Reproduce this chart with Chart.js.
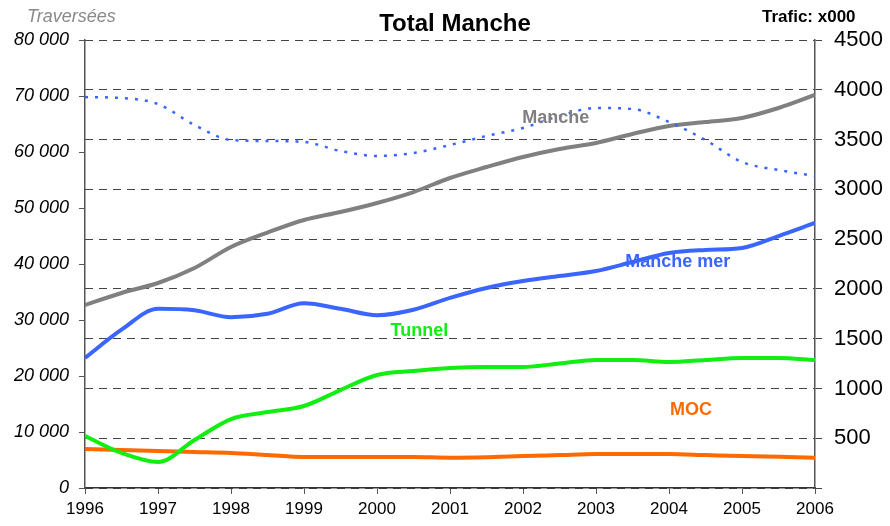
<!DOCTYPE html>
<html>
<head>
<meta charset="utf-8">
<script src="https://cdn.jsdelivr.net/npm/chart.js@4"></script>
<style>
  body { margin: 0; background: #fff; }
</style>
</head>
<body>
<canvas id="myChart" width="890" height="526"></canvas>
<script>
// donnees (semestres)
const annees = [1996, 1996.5, 1997, 1997.5, 1998, 1998.5, 1999, 1999.5, 2000, 2000.5, 2001,
                2001.5, 2002, 2002.5, 2003, 2003.5, 2004, 2004.5, 2005, 2005.5, 2006];

// trafic en milliers (axe de droite)
const manche    = [1838, 1959, 2059, 2210, 2421, 2566, 2692, 2772, 2863, 2973, 3114,
                   3224, 3325, 3405, 3466, 3556, 3636, 3676, 3717, 3817, 3948];
const mancheMer = [1306, 1590, 1800, 1785, 1715, 1750, 1855, 1800, 1735, 1790, 1909,
                   2009, 2079, 2130, 2180, 2270, 2361, 2391, 2411, 2531, 2662];
const tunnel    = [522, 352, 261, 482, 693, 763, 824, 984, 1135, 1175, 1205,
                   1215, 1216, 1250, 1286, 1286, 1266, 1286, 1306, 1306, 1286];
const moc       = [392, 382, 372, 362, 352, 331, 311, 311, 311, 311, 305,
                   310, 321, 331, 341, 341, 341, 331, 321, 313, 305];

// traversees (axe de gauche)
const traversees = [69800, 69640, 68570, 64820, 62140, 61960, 61790, 60180, 59290, 59820, 61250,
                    62860, 64290, 66430, 67860, 67680, 65360, 62140, 58210, 56790, 55710];

// etiquettes des courbes : [texte, annee, valeur axe droite, couleur]
const etiquettes = [
  ["Manche", 2002.45, 3717, "#808080"],
  ["Manche mer", 2004.12, 2270, "#3a66ff"],
  ["Tunnel", 2000.58, 1577, "#11ee11"],
  ["MOC", 2004.3, 784, "#ff6a00"]
];

function points(valeurs) {
  return valeurs.map((v, i) => ({ x: annees[i], y: v }));
}

function serie(label, valeurs, couleur, axe) {
  return {
    label: label,
    data: points(valeurs),
    borderColor: couleur,
    backgroundColor: couleur,
    borderWidth: 4,
    pointRadius: 0,
    cubicInterpolationMode: "monotone",
    yAxisID: axe
  };
}

const textes = {
  id: "textes",
  afterDraw(chart) {
    const ctx = chart.ctx;
    const x = chart.scales.x;
    const y1 = chart.scales.y1;
    ctx.save();
    ctx.textBaseline = "middle";
    ctx.textAlign = "center";
    ctx.fillStyle = "#000";
    ctx.font = "bold 24px Arial, 'Liberation Sans', sans-serif";
    ctx.fillText("Total Manche", 455, 24);

    ctx.font = "italic 18px Arial, 'Liberation Sans', sans-serif";
    ctx.fillStyle = "#8a8a8a";
    ctx.textAlign = "left";
    ctx.fillText("Traversées", 27, 17);

    ctx.font = "bold 17px Arial, 'Liberation Sans', sans-serif";
    ctx.fillStyle = "#000";
    ctx.fillText("Trafic: x000", 762, 17);

    ctx.textAlign = "center";
    etiquettes.forEach(e => {
      ctx.font = "bold 18px Arial, 'Liberation Sans', sans-serif";
      ctx.fillStyle = e[3];
      ctx.fillText(e[0], x.getPixelForValue(e[1]), y1.getPixelForValue(e[2]));
    });
    ctx.restore();
  }
};

const ctx = document.getElementById("myChart").getContext("2d");
const myChart = new Chart(ctx, {
  type: "line",
  data: {
    datasets: [
      {
        label: "Traversées",
        data: points(traversees),
        borderColor: "#3a66ff",
        borderWidth: 2.5,
        borderDash: [3, 7],
        pointRadius: 0,
        cubicInterpolationMode: "monotone",
        yAxisID: "y"
      },
      serie("Manche", manche, "#808080", "y1"),
      serie("Manche mer", mancheMer, "#3a66ff", "y1"),
      serie("Tunnel", tunnel, "#11ee11", "y1"),
      serie("MOC", moc, "#ff6a00", "y1")
    ]
  },
  options: {
    responsive: false,
    animation: false,
    layout: { padding: { top: 40, left: 0, right: 0, bottom: 0 } },
    plugins: {
      legend: { display: false },
      tooltip: { enabled: false }
    },
    scales: {
      x: {
        type: "linear",
        min: 1996,
        max: 2006,
        ticks: {
          stepSize: 1,
          color: "#000",
          padding: 5,
          font: { family: "Arial, 'Liberation Sans', sans-serif", size: 17 },
          callback: v => String(v)
        },
        grid: { drawOnChartArea: false, tickLength: 6, color: "#555" },
        border: { color: "#333", width: 1.5 },
        afterFit: s => { s.height = 38; }
      },
      y: {
        position: "left",
        min: 0,
        max: 80000,
        ticks: {
          stepSize: 10000,
          color: "#000",
          padding: 10,
          font: { family: "Arial, 'Liberation Sans', sans-serif", size: 18, style: "italic" },
          callback: v => v === 0 ? "0" : (v / 1000) + " 000"
        },
        grid: { drawOnChartArea: false, tickLength: 6, color: "#555" },
        border: { color: "#555", width: 1.5 },
        afterFit: s => { s.width = 85; }
      },
      y1: {
        position: "right",
        min: 0,
        max: 4500,
        ticks: {
          stepSize: 500,
          color: "#000",
          padding: 12,
          font: { family: "Arial, 'Liberation Sans', sans-serif", size: 22 },
          callback: v => v === 0 ? "" : String(v)
        },
        grid: { drawOnChartArea: true, tickLength: 7, color: "#444", tickColor: "#444", lineWidth: 1 },
        border: { color: "#555", width: 1.5, dash: [8, 6] },
        afterFit: s => { s.width = 75; }
      }
    }
  },
  plugins: [textes]
});
</script>
</body>
</html>
